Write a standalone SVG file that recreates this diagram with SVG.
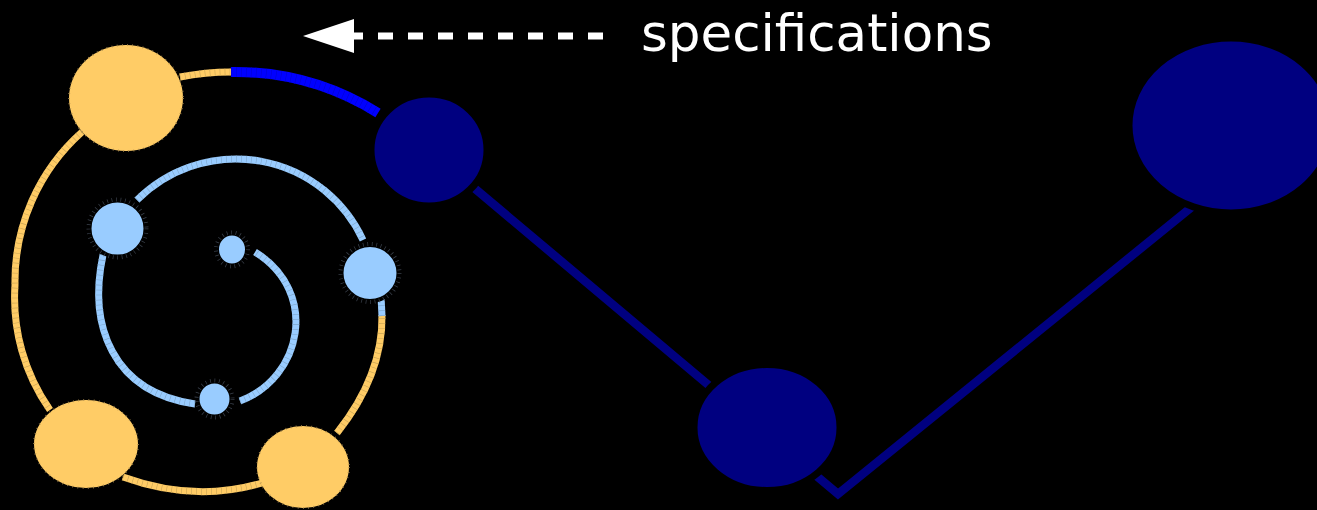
<svg xmlns="http://www.w3.org/2000/svg" width="1317" height="510" viewBox="0 0 1317 510">
<style>
.or{fill:none;stroke:#ffcc66;stroke-width:7}
.lb{fill:none;stroke:#99ccff;stroke-width:7}
.bl{fill:none;stroke:#0000ff;stroke-width:10}
.tk{fill:none;stroke-dasharray:0.6 4.4}
.tko{stroke:#c9a454;stroke-width:7}
.tkl{stroke:#7ea6cc;stroke-width:7}
.tkb{stroke:#0000d4;stroke-width:10}
.nv{fill:none;stroke:#000080;stroke-width:8.5}
.onode{fill:#ffcc66;stroke:#b39251;stroke-width:2;stroke-dasharray:0.7 4.5}
.lnode{fill:#99ccff;stroke:#000;stroke-width:4}
.lring{fill:none;stroke:#3a414c;stroke-width:4;stroke-dasharray:0.7 3.8}
.dnode{fill:#000080;stroke:#000;stroke-width:7}
.lbl{font-family:"DejaVu Sans",Verdana,sans-serif;font-size:51.5px;fill:#fff}
</style>
<rect width="1317" height="510" fill="#000"/>
<g id="connectors">
<polyline class="nv" points="429,150 838,494 1230,176"/>
<g id="outer-ring">
<path class="bl" d="M231,72 A271,271 0 0 1 378,113"/>
<path class="tk tkb" d="M231,72 A271,271 0 0 1 378,113"/>
<path class="or" d="M180,77 A271,271 0 0 1 231,72"/>
<path class="tk tko" d="M180,77 A271,271 0 0 1 231,72"/>
<path class="or" d="M82,132 A200,200 0 0 0 15,285 A195,195 0 0 0 50,410"/>
<path class="tk tko" d="M82,132 A200,200 0 0 0 15,285 A195,195 0 0 0 50,410"/>
<path class="or" d="M123,477 Q195,503 262,483"/>
<path class="tk tko" d="M123,477 Q195,503 262,483"/>
<path class="or" d="M337,433 Q383,375 382,315"/>
<path class="tk tko" d="M337,433 Q383,375 382,315"/>
<path class="lb" d="M382,316 L381,296"/>
<path class="tk tkl" d="M382,316 L381,296"/>
</g>
<g id="inner-ring">
<path class="lb" d="M137,200 A140,140 0 0 1 363,240"/>
<path class="tk tkl" d="M137,200 A140,140 0 0 1 363,240"/>
<path class="lb" d="M103,255 C88,325 112,392 195,404"/>
<path class="tk tkl" d="M103,255 C88,325 112,392 195,404"/>
<path class="lb" d="M240,401 C302,378 320,292 255,252"/>
<path class="tk tkl" d="M240,401 C302,378 320,292 255,252"/>
</g>
<g id="specifications-arrow">
<line x1="603" y1="36" x2="349" y2="36" stroke="#fff" stroke-width="7" stroke-dasharray="15 15"/>
<polygon points="303,36 354,19 354,53" fill="#fff"/>
</g>
</g>
<g id="node-o1"><ellipse class="onode" cx="126" cy="98" rx="57" ry="53"/></g>
<g id="node-o2"><ellipse class="onode" cx="86" cy="444" rx="52" ry="44"/></g>
<g id="node-o3"><ellipse class="onode" cx="303" cy="467" rx="46" ry="41"/></g>
<g id="node-l1"><ellipse class="lnode" cx="117.5" cy="228.5" rx="28" ry="28"/><ellipse class="lring" cx="117.5" cy="228.5" rx="29" ry="29"/></g>
<g id="node-l2"><ellipse class="lnode" cx="370" cy="273" rx="28.5" ry="28"/><ellipse class="lring" cx="370" cy="273" rx="29.5" ry="29"/></g>
<g id="node-l3"><ellipse class="lnode" cx="232" cy="249.5" rx="15" ry="16"/><ellipse class="lring" cx="232" cy="249.5" rx="16" ry="17"/></g>
<g id="node-l4"><ellipse class="lnode" cx="214.5" cy="399" rx="17" ry="17.5"/><ellipse class="lring" cx="214.5" cy="399" rx="18" ry="18.5"/></g>
<g id="node-d1"><ellipse class="dnode" cx="429" cy="150" rx="58" ry="56"/></g>
<g id="node-d2"><ellipse class="dnode" cx="767" cy="427.5" rx="73" ry="63"/></g>
<g id="node-d3"><ellipse class="dnode" cx="1231" cy="125.5" rx="102" ry="87.5"/></g>
<text class="lbl" x="641" y="51">specifications</text>
</svg>
